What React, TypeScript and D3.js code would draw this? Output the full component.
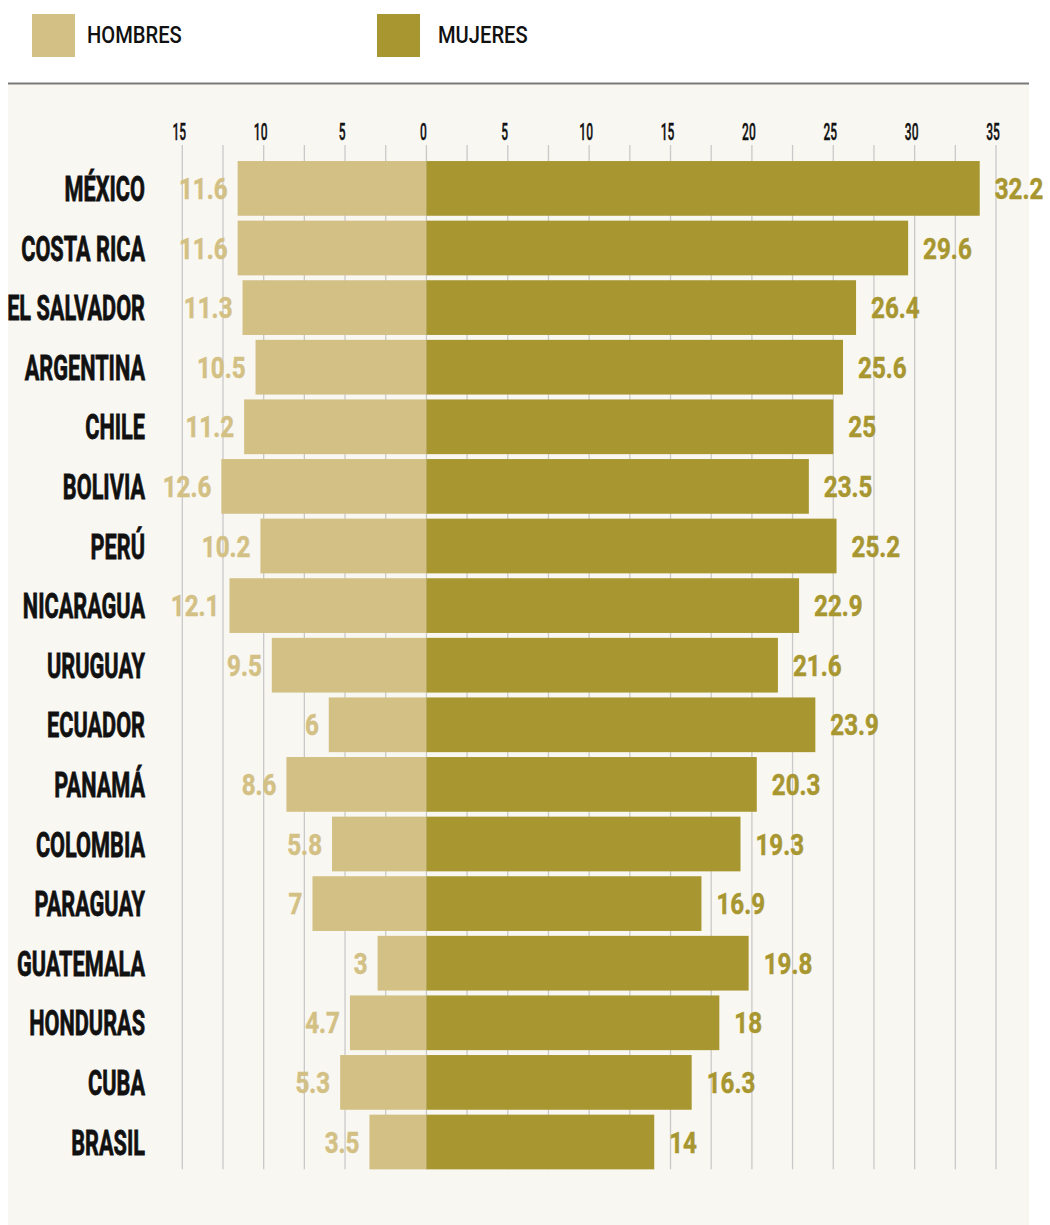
import React from "react";
import * as d3 from "d3";

// ---- Data ----
const paises = [
  "MÉXICO", "COSTA RICA", "EL SALVADOR", "ARGENTINA", "CHILE", "BOLIVIA", "PERÚ",
  "NICARAGUA", "URUGUAY", "ECUADOR", "PANAMÁ", "COLOMBIA", "PARAGUAY", "GUATEMALA",
  "HONDURAS", "CUBA", "BRASIL",
];
const hombres = [11.6, 11.6, 11.3, 10.5, 11.2, 12.6, 10.2, 12.1, 9.5, 6, 8.6, 5.8, 7, 3, 4.7, 5.3, 3.5];
const mujeres = [32.2, 29.6, 26.4, 25.6, 25, 23.5, 25.2, 22.9, 21.6, 23.9, 20.3, 19.3, 16.9, 19.8, 18, 16.3, 14];
// bar lengths as drawn in the picture (México's bar is drawn longer than its label)
const mujeresBarra = [34.0, 29.6, 26.4, 25.6, 25, 23.5, 25.2, 22.9, 21.6, 23.9, 20.3, 19.3, 16.9, 19.8, 18, 16.3, 14];
const gridTicks = d3.range(-15, 35.01, 2.5);
const labelTicks = [-15, -10, -5, 0, 5, 10, 15, 20, 25, 30, 35];
const leyenda = ["HOMBRES", "MUJERES"];

const CLARO = "#d3c084";
const OSCURO = "#a89630";

export default function App() {
  const W = 1050, H = 1225;
  const x = d3.scaleLinear().domain([-15, 35]).range([182.3, 996]);
  const y = d3
    .scaleBand<string>()
    .domain(paises)
    .range([158.6, 158.6 + 17 * 59.6])
    .paddingInner(0.082)
    .paddingOuter(0.041);
  const bw = y.bandwidth();
  const gridTop = 145;
  const gridBottom = (y(paises[paises.length - 1]) as number) + bw;

  const font = "Roboto, 'Liberation Sans', sans-serif";
  const legendX = [32, 377];
  const legendGap = [12, 18];

  return (
    <svg
      width={W}
      height={H}
      style={{ position: "absolute", left: 0, top: 0, display: "block" }}
    >
      <rect x={0} y={0} width={W} height={H} fill="#ffffff" />
      <rect x={8} y={84} width={1021} height={H - 84} fill="#f9f7f1" />
      <line x1={8} x2={1029} y1={83.5} y2={83.5} stroke="#7a7a7a" strokeWidth={2} />

      {/* Legend */}
      {leyenda.map((t, i) => {
        const lx = legendX[i];
        return (
          <g key={t}>
            <rect x={lx} y={14} width={43} height={43} fill={i === 0 ? CLARO : OSCURO} />
            <text
              transform={`translate(${lx + 43 + legendGap[i]},43) scale(0.84,1)`}
              fontFamily={font}
              fontWeight={500}
              fontSize={24}
              fill="#111"
            >
              {t}
            </text>
          </g>
        );
      })}

      {/* Grid */}
      {gridTicks.map((t) => (
        <line
          key={"g" + t}
          x1={x(t)}
          x2={x(t)}
          y1={gridTop}
          y2={gridBottom}
          stroke="#c9c9c9"
          strokeWidth={1.3}
        />
      ))}
      {labelTicks.map((t) => (
        <text
          key={"t" + t}
          transform={`translate(${x(t) - 3},140) scale(0.5,1)`}
          textAnchor="middle"
          fontFamily={font}
          fontWeight={500}
          fontSize={24}
          fill="#111"
          stroke="#111"
          strokeWidth={0.4}
        >
          {Math.abs(t)}
        </text>
      ))}

      {/* Bars */}
      {paises.map((p, i) => {
        const yy = y(p) as number;
        const cy = yy + bw / 2;
        const x0 = x(0);
        const xh = x(-hombres[i]);
        const xm = x(mujeresBarra[i]);
        return (
          <g key={p}>
            <rect x={xh} y={yy} width={x0 - xh} height={bw} fill={CLARO} />
            <rect x={x0} y={yy} width={xm - x0} height={bw} fill={OSCURO} />
            <text
              transform={`translate(145,${cy + 12.5}) scale(0.62,1)`}
              textAnchor="end"
              fontFamily={font}
              fontWeight={700}
              fontSize={35}
              fill="#111"
              stroke="#111"
              strokeWidth={0.8}
            >
              {p}
            </text>
            <text
              transform={`translate(${xh - 10},${cy + 10.5}) scale(0.82,1)`}
              textAnchor="end"
              fontFamily={font}
              fontWeight={700}
              fontSize={29.5}
              fill={CLARO}
              stroke={CLARO}
              strokeWidth={0.5}
            >
              {hombres[i]}
            </text>
            <text
              transform={`translate(${xm + 15},${cy + 10.5}) scale(0.82,1)`}
              textAnchor="start"
              fontFamily={font}
              fontWeight={700}
              fontSize={29.5}
              fill={OSCURO}
              stroke={OSCURO}
              strokeWidth={0.5}
            >
              {mujeres[i]}
            </text>
          </g>
        );
      })}
    </svg>
  );
}
